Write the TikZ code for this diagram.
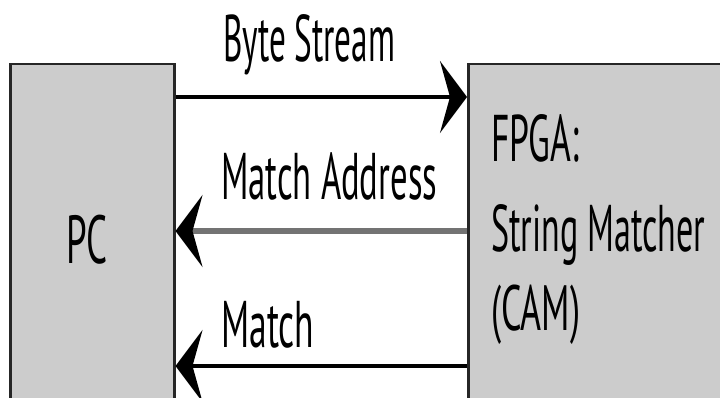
\documentclass[tikz,border=0pt]{standalone}
\usepackage{fontspec}
\usetikzlibrary{arrows.meta}
\newfontfamily\lblfont{PT Sans}
\newcommand{\sqz}[3]{\resizebox{#1pt}{\height}{\fontsize{#2}{#2}\selectfont #3}}
\begin{document}
\begin{tikzpicture}[x=1pt,y=-1pt,
  box/.style={draw=black!85, line width=2.5pt, fill=black!20, inner sep=0pt},
  flow/.style={line width=4pt, -{Stealth[length=27pt,width=72pt,inset=10pt,color=black]}},
  txt/.style={anchor=base west, inner sep=0pt, font=\lblfont}]
\clip (0,0) rectangle (720,398);
\fill[white] (0,0) rectangle (720,398);
\node[box, anchor=north west, minimum width=164pt, minimum height=360pt] (pc) at (9,63) {};
\node[box, anchor=north west, minimum width=280pt, minimum height=360pt] (fpga) at (467,63) {};
\coordinate (yb) at (0,97);
\coordinate (ya) at (0,231);
\coordinate (ym) at (0,366);
\draw[flow] (pc.east |- yb) -- (fpga.west |- yb);
\draw[flow, draw=black!55, line width=5.5pt] (fpga.west |- ya) -- (pc.east |- ya);
\draw[flow] (fpga.west |- ym) -- (pc.east |- ym);
\node[txt] (lb) at (223,62) {\sqz{172}{66}{Byte Stream}};
\node[txt] (la) at (221,200) {\sqz{216}{66}{Match Address}};
\node[txt] (lm) at (221,347) {\sqz{93}{66}{Match}};
\node[txt] (pct) at (66,263) {\sqz{41}{68}{PC}};
\node[txt] (f1) at (491,162) {\sqz{88}{66}{FPGA:}};
\node[txt] (f2) at (491,251) {\sqz{214}{66}{String Matcher}};
\node[txt] (f3) at (491,330) {\sqz{89}{64}{(CAM)}};
\end{tikzpicture}
\end{document}
